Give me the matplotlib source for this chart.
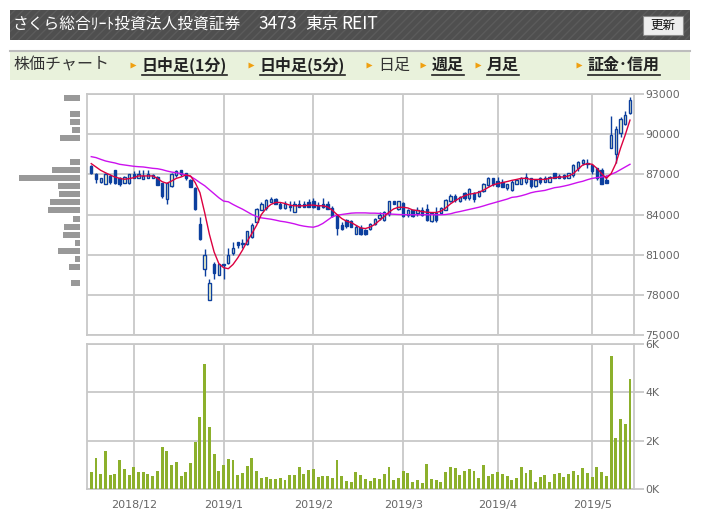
import numpy as np
import pandas as pd
import matplotlib
matplotlib.use('Agg')
import matplotlib.pyplot as plt
from matplotlib.patches import Rectangle

# --- data ---------------------------------------------------------------
# TSE trading days shown on the chart (Nov 19 2018 .. May 17 2019)
holidays = ['2018-11-23', '2018-12-24', '2018-12-31', '2019-01-01', '2019-01-02',
            '2019-01-03', '2019-01-14', '2019-02-11', '2019-03-21', '2019-04-29',
            '2019-04-30', '2019-05-01', '2019-05-02', '2019-05-03', '2019-05-06']

opens = [87620, 87050, 86450, 86300, 86875, 87320, 86750, 86380, 86380, 87050,
         86750, 86630, 86750, 86700, 86800, 86330, 85180, 86130, 86950, 87300,
         87075, 86550, 85950, 83300, 79900, 77650, 80330, 79480, 80330, 80410,
         81090, 81910, 81800, 81830, 82330, 83450, 84370, 84450, 84950, 85150,
         84750, 84450, 84570, 84150, 84820, 84750, 84950, 85000, 84700, 84750,
         84750, 84500, 84000, 83250, 83580, 83500, 82580, 83000, 82830, 82940,
         83260, 83750, 83560, 84050, 85030, 84420, 84830, 84000, 84300, 84100,
         84340, 84420, 83500, 84100, 84100, 84340, 85000, 85400, 85030, 85570,
         85230, 85570, 85400, 85720, 86210, 86700, 86510, 86460, 86000, 85800,
         86300, 86300, 86450, 86700, 86120, 86700, 86450, 86450, 87120, 86700,
         86950, 86700, 86950, 87450, 87870, 87870, 87700, 87450, 87300, 86550,
         89000, 88500, 90100, 90750, 91550]
highs = [87700, 87125, 86700, 87100, 87000, 87320, 86800, 86900, 87000, 87250,
         87300, 87300, 87300, 87050, 86875, 86380, 86380, 87125, 87300, 87350,
         87125, 86630, 86050, 83800, 81400, 79150, 80450, 80330, 80330, 81510,
         81960, 81960, 82200, 82750, 83330, 84500, 84900, 85150, 85320, 85250,
         84950, 85000, 85000, 85000, 85070, 85000, 85150, 85250, 84950, 85250,
         85000, 84650, 84070, 83450, 83700, 83580, 83200, 83200, 82900, 83360,
         83750, 84170, 84250, 85030, 85030, 85030, 84900, 84420, 84300, 84540,
         84540, 84790, 84170, 84540, 84540, 85150, 85520, 85520, 85400, 85650,
         85970, 85650, 85780, 86380, 86800, 86750, 86800, 86630, 86310, 86550,
         86620, 86800, 87120, 86750, 86620, 86800, 86880, 86880, 87120, 87000,
         87050, 87120, 87750, 88000, 88120, 88120, 87800, 87500, 87500, 86950,
         91380, 90600, 91300, 91700, 92750]
lows = [87050, 86380, 86380, 86300, 86250, 86300, 86150, 86380, 86300, 86700,
        86700, 86630, 86700, 86700, 86180, 85200, 84760, 86050, 86800, 86880,
        86550, 86050, 84340, 82100, 79400, 77650, 79150, 79480, 79150, 80340,
        80960, 81510, 81510, 81710, 82260, 83450, 84320, 84320, 84950, 84750,
        84400, 84400, 84250, 84150, 84570, 84570, 84570, 84450, 84400, 84500,
        84400, 83830, 82450, 82830, 83000, 83050, 82580, 82500, 82500, 82870,
        83190, 83560, 83500, 83920, 84790, 84340, 83850, 83850, 83800, 83900,
        83920, 83500, 83430, 83430, 84100, 84300, 84900, 84900, 84900, 85080,
        85080, 84900, 85330, 85650, 86140, 86140, 86070, 86020, 85800, 85750,
        86250, 86250, 86300, 86000, 86050, 86250, 86450, 86450, 86700, 86700,
        86620, 86700, 86800, 87250, 87700, 87450, 87000, 86550, 86250, 86380,
        88950, 87850, 89800, 90650, 91500]
closes = [87125, 86630, 86700, 87050, 86450, 86380, 86300, 86800, 87000, 86750,
          87050, 86875, 87050, 86950, 86180, 85380, 86330, 87050, 87250, 87000,
          86750, 86050, 84400, 82200, 80950, 78850, 79650, 80280, 80200, 80960,
          81510, 81710, 81830, 82750, 83250, 84400, 84750, 85070, 85150, 84820,
          84450, 84750, 84600, 84750, 84570, 84570, 84570, 84570, 84400, 84570,
          84400, 83900, 83000, 82950, 83150, 83100, 83080, 82580, 82580, 83260,
          83680, 84000, 84170, 84980, 84790, 84980, 83920, 84340, 83920, 84300,
          84000, 83600, 84100, 83560, 84490, 85080, 85400, 85080, 85280, 85230,
          85900, 85160, 85720, 86310, 86700, 86260, 86140, 86070, 86250, 86450,
          86550, 86700, 86800, 86120, 86550, 86450, 86700, 86800, 86700, 86880,
          86700, 87120, 87700, 87950, 88050, 87800, 87250, 86700, 86250, 86380,
          89950, 90400, 91100, 91450, 92550]

# short moving average (red) and long moving average (magenta)
ma_short = [87800, 87550, 87300, 87120, 86950, 86800, 86700, 86630, 86680, 86750,
            86880, 86880, 86880, 86880, 86700, 86450, 86330, 86500, 86700, 86800,
            86950, 86880, 86380, 85630, 84140, 82520, 81200, 80330, 80030, 79950,
            80270, 80760, 81340, 82000, 82580, 83200, 84000, 84450, 84750, 84900,
            84900, 84820, 84700, 84650, 84650, 84650, 84700, 84700, 84650, 84650,
            84570, 84320, 84000, 83700, 83500, 83400, 83200, 83000, 82950, 83060,
            83260, 83560, 83850, 84170, 84420, 84540, 84540, 84490, 84340, 84300,
            84220, 84170, 84150, 84150, 84250, 84490, 84790, 85030, 85230, 85400,
            85520, 85570, 85650, 85820, 86020, 86210, 86310, 86380, 86460, 86550,
            86620, 86700, 86700, 86620, 86620, 86620, 86620, 86700, 86750, 86800,
            86800, 86880, 87050, 87380, 87700, 87800, 87750, 87450, 87050, 86700,
            87050, 87800, 88950, 89950, 91050]
ma_long = [88320, 88250, 88120, 88000, 87920, 87850, 87750, 87700, 87650, 87600,
           87570, 87550, 87500, 87450, 87420, 87350, 87250, 87170, 87120, 87050,
           86950, 86850, 86630, 86380, 86150, 85850, 85550, 85250, 85000, 84950,
           84750, 84570, 84400, 84200, 84000, 83850, 83750, 83700, 83650, 83580,
           83500, 83450, 83380, 83300, 83200, 83130, 83080, 83050, 83150, 83330,
           83580, 83830, 83950, 84000, 84050, 84100, 84120, 84120, 84120, 84100,
           84100, 84080, 84060, 84040, 84020, 84000, 83990, 83980, 83980, 83980,
           83980, 83980, 83980, 83980, 83980, 84000, 84050, 84150, 84220, 84300,
           84380, 84460, 84540, 84640, 84750, 84850, 84950, 85050, 85150, 85280,
           85320, 85400, 85500, 85620, 85700, 85750, 85800, 85900, 86000, 86050,
           86120, 86200, 86300, 86400, 86480, 86600, 86700, 86750, 86800, 86850,
           87000, 87150, 87350, 87550, 87750]

volumes = [715, 1290, 630, 1580, 590, 630, 1210, 840, 590, 920,
           715, 715, 630, 550, 755, 1745, 1580, 1000, 1130, 550,
           715, 1085, 1950, 2980, 5170, 2570, 1460, 755, 1000, 1250,
           1210, 590, 675, 960, 1290, 755, 470, 510, 425, 425,
           470, 385, 590, 590, 920, 630, 800, 840, 510, 550,
           550, 470, 1210, 550, 345, 300, 715, 590, 425, 345,
           470, 425, 630, 920, 385, 470, 755, 675, 300, 385,
           260, 1045, 425, 385, 300, 715, 920, 880, 590, 755,
           840, 755, 470, 1000, 550, 630, 715, 630, 550, 385,
           470, 920, 675, 800, 300, 510, 590, 300, 630, 675,
           510, 630, 755, 590, 880, 675, 510, 920, 715, 550,
           5500, 2120, 2900, 2695, 4550]

# volume-by-price profile on the left
band_prices = [92700, 91500, 90900, 90300, 89700, 87900, 87300, 86700, 86100, 85500,
               84900, 84300, 83700, 83100, 82500, 81900, 81300, 80700, 80100, 78900]
band_volumes = [48, 30, 30, 24, 60, 30, 84, 183, 66, 63,
                90, 96, 21, 48, 51, 15, 66, 15, 33, 27]

price_ticks = [75000, 78000, 81000, 84000, 87000, 90000, 93000]
volume_ticks = [0, 2000, 4000, 6000]
volume_tick_labels = ['0K', '2K', '4K', '6K']

title_parts = ['さくら総合ﾘｰﾄ投資法人投資証券', '3473', '東京', 'REIT']
nav_items = ['日中足(1分)', '日中足(5分)', '日足', '週足', '月足', '証金･信用']

# --- figure -------------------------------------------------------------
dates = pd.bdate_range('2018-11-19', '2019-05-17')
dates = dates[~dates.isin(pd.to_datetime(holidays))]
months = dates.to_period('M')
month_starts = [i for i in range(1, len(dates)) if months[i] != months[i - 1]]
month_labels = [f'{dates[i].year}/{dates[i].month}' for i in month_starts]
idx = np.arange(len(dates))

W, H = 706, 530
fig = plt.figure(figsize=(W / 100, H / 100), dpi=100)
plt.rcParams['hatch.linewidth'] = 1.0
jp = ['Noto Sans CJK JP', 'DejaVu Sans']

GRID = '#c8c8c8'
BLUE = '#0c3f9e'
LABEL = '#666666'


def px_axes(x0, y0, x1, y1):
    return fig.add_axes([x0 / W, 1 - y1 / H, (x1 - x0) / W, (y1 - y0) / H])


# header / navigation drawn in pixel coordinates
bg = fig.add_axes([0, 0, 1, 1])
bg.set_xlim(0, W)
bg.set_ylim(H, 0)
bg.axis('off')
bg.add_patch(Rectangle((10, 10), 680, 30, facecolor='#4f4f4f', edgecolor='#5b5b5b',
                       hatch='////', lw=0))
title_x = [13, 258, 305, 341]
title_size = [11.3, 12.5, 12, 12.5]
for x, part, fs in zip(title_x, title_parts, title_size):
    bg.text(x, 24, part, family=jp, fontsize=fs, color='white', va='center')
bg.add_patch(Rectangle((643, 15.5), 40, 19, facecolor='#eeeeee', edgecolor='#8c8c8c', lw=0.8))
bg.text(663, 25, '更新', family=jp, fontsize=9, color='#111111', ha='center', va='center')

bg.add_patch(Rectangle((10, 50), 680, 30, facecolor='#e9f2dc', lw=0))
bg.plot([10, 690], [50.5, 50.5], color='#bdbdbd', lw=1.5)
bg.text(13, 65, '株価チャート', family=jp, fontsize=11.5, color='#333333', va='center')

nav_x = [142, 260, 378, 432, 487, 588]
links = []
for x, label in zip(nav_x, nav_items):
    bg.plot(x - 9, 65, marker='>', ms=4, color='#f0a010', mec='none')
    is_link = label != '日足'
    t = bg.text(x, 65, label, family=jp, fontsize=11.5, va='center',
                color='#222222' if is_link else '#333333',
                fontweight='bold' if is_link else 'normal')
    if is_link:
        links.append(t)

fig.canvas.draw()
renderer = fig.canvas.get_renderer()
for t in links:
    bb = t.get_window_extent(renderer)
    bg.plot([bb.x0, bb.x1], [74.5, 74.5], color='#222222', lw=1.2)

# price panel
ax = px_axes(87, 94, 634, 335)
ax.set_xlim(-0.9, len(dates) - 0.15)
ax.set_ylim(75000, 93000)

o, h, l, c = map(np.array, (opens, highs, lows, closes))
up = c >= o
body_low = np.minimum(o, c)
body_h = np.maximum(np.abs(c - o), 40)
ax.vlines(idx, l, h, color=BLUE, lw=1, zorder=3)
ax.bar(idx[up], body_h[up], bottom=body_low[up], width=0.5,
       color='#ffffcc', edgecolor=BLUE, lw=1, zorder=4)
ax.bar(idx[~up], body_h[~up], bottom=body_low[~up], width=0.5,
       color=BLUE, edgecolor=BLUE, lw=1, zorder=4)
ax.plot(idx, ma_long, color='#cc11ee', lw=1, zorder=5)
ax.plot(idx, ma_short, color='#dc0040', lw=1, zorder=5)

ax.set_yticks(price_ticks)
ax.set_yticklabels([str(v) for v in price_ticks])
ax.set_xticks(month_starts)
ax.set_xticklabels([])

# volume panel
vax = px_axes(87, 344, 634, 489)
vax.set_xlim(ax.get_xlim())
vax.set_ylim(0, 6000)
vax.bar(idx, volumes, width=0.62, color='#8cb02c', zorder=3)
vax.set_yticks(volume_ticks)
vax.set_yticklabels(volume_tick_labels)
vax.set_xticks(month_starts)
vax.set_xticklabels(month_labels)

for a in (ax, vax):
    a.yaxis.tick_right()
    a.grid(color=GRID, lw=1.3)
    a.set_axisbelow(True)
    for s in a.spines.values():
        s.set_color(GRID)
        s.set_linewidth(1.3)
    a.tick_params(axis='y', length=7, width=1.3, color=GRID, labelcolor=LABEL,
                  labelsize=7.8, pad=1)
    a.tick_params(axis='x', length=0, labelcolor=LABEL, labelsize=8, pad=8)

# volume-by-price profile
hax = px_axes(10, 94, 80, 335)
hax.barh(band_prices, band_volumes, height=450, color='#999999')
hax.set_ylim(ax.get_ylim())
hax.set_xlim(max(band_volumes) * 70 / 61, 0)
hax.axis('off')

fig.savefig('out.png', dpi=100)
